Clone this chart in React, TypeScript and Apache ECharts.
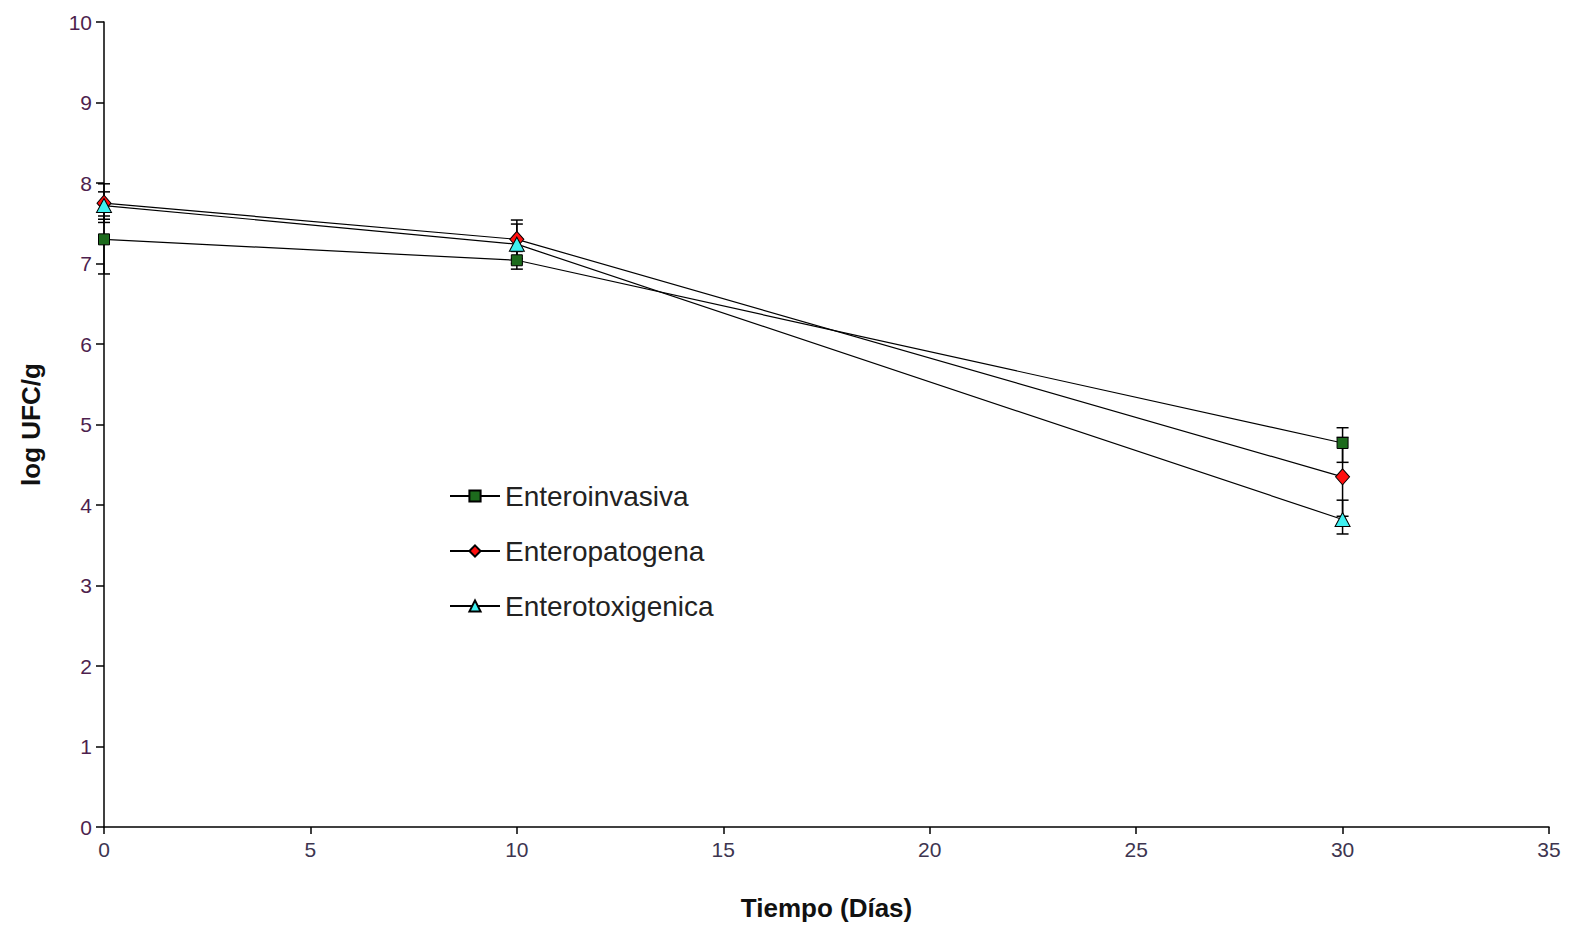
import React, { useEffect, useRef } from "react";
import * as echarts from "echarts";

const days = [0, 10, 30];
const xTicks = [0, 5, 10, 15, 20, 25, 30, 35];

const enteroinvasiva = [7.3, 7.04, 4.77];
const enteroinvasivaErrUp = [0.29, 0.11, 0.19];
const enteroinvasivaErrDown = [0.43, 0.11, 0.24];

const enteropatogena = [7.75, 7.3, 4.35];
const enteropatogenaErrUp = [0.24, 0.24, 0.49];
const enteropatogenaErrDown = [0.24, 0.24, 0.49];

const enterotoxigenica = [7.72, 7.24, 3.82];
const enterotoxigenicaErrUp = [0.17, 0.25, 0.24];
const enterotoxigenicaErrDown = [0.17, 0.24, 0.18];

const names = ["Enteroinvasiva", "Enteropatogena", "Enterotoxigenica"];

function errData(vals: number[], up: number[], down: number[]) {
  return days.map((d, i) => [d, vals[i] - down[i], vals[i] + up[i]]);
}

function errorSeries(vals: number[], up: number[], down: number[]) {
  return {
    type: "custom",
    silent: true,
    z: 1,
    data: errData(vals, up, down),
    renderItem: (params: any, api: any) => {
      const x = api.value(0);
      const lo = api.coord([x, api.value(1)]);
      const hi = api.coord([x, api.value(2)]);
      const hw = 6;
      const style = { stroke: "#000", lineWidth: 1.5 };
      return {
        type: "group",
        children: [
          { type: "line", shape: { x1: lo[0], y1: lo[1], x2: hi[0], y2: hi[1] }, style },
          { type: "line", shape: { x1: lo[0] - hw, y1: lo[1], x2: lo[0] + hw, y2: lo[1] }, style },
          { type: "line", shape: { x1: hi[0] - hw, y1: hi[1], x2: hi[0] + hw, y2: hi[1] }, style },
        ],
      };
    },
  };
}

function lineSeries(name: string, vals: number[], symbol: string, size: any, color: string) {
  return {
    name,
    type: "line",
    z: 3,
    data: days.map((d, i) => [d, vals[i]]),
    symbol,
    symbolSize: size,
    showAllSymbol: true,
    lineStyle: { color: "#000", width: 1.2 },
    itemStyle: { color, borderColor: "#000", borderWidth: 1 },
  };
}

export default function App() {
  const ref = useRef<HTMLDivElement>(null);
  useEffect(() => {
    if (!ref.current) return;
    const chart = echarts.init(ref.current, undefined, { renderer: "svg" });
    chart.setOption({
      animation: false,
      backgroundColor: "#fff",
      textStyle: { fontFamily: "Liberation Sans, Arial, sans-serif" },
      grid: { left: 104, right: 20, top: 22, bottom: 101, containLabel: false, outerBoundsMode: "none" },
      legend: {
        orient: "vertical",
        left: 444,
        top: 476,
        itemWidth: 50,
        itemHeight: 14,
        itemGap: 25,
        data: names,
        textStyle: { fontSize: 28, color: "#222", fontFamily: "Liberation Sans, Arial, sans-serif", lineHeight: 30 },
      },
      xAxis: {
        type: "value",
        min: 0,
        max: 35,
        interval: 5,
        name: "Tiempo (Días)",
        nameLocation: "middle",
        nameGap: 68,
        nameTextStyle: { fontSize: 26, fontWeight: "bold", color: "#111" },
        axisLine: { onZero: false, lineStyle: { color: "#000", width: 1.5 } },
        axisTick: { show: true, length: 7, lineStyle: { color: "#000", width: 1.5 } },
        axisLabel: {
          fontSize: 21,
          color: "#3d3550",
          margin: 12,
          formatter: (v: number) => (xTicks.includes(v) ? String(v) : ""),
        },
        splitLine: { show: false },
      },
      yAxis: {
        type: "value",
        min: 0,
        max: 10,
        interval: 1,
        name: "log UFC/g",
        nameLocation: "middle",
        nameGap: 60,
        nameRotate: 90,
        nameTextStyle: { fontSize: 26, fontWeight: "bold", color: "#111" },
        axisLine: { show: true, lineStyle: { color: "#000", width: 1.5 } },
        axisTick: { show: true, length: 8, lineStyle: { color: "#000", width: 1.5 } },
        axisLabel: { fontSize: 21, color: "#4e1f4e", margin: 12 },
        splitLine: { show: false },
      },
      series: [
        errorSeries(enteroinvasiva, enteroinvasivaErrUp, enteroinvasivaErrDown),
        errorSeries(enteropatogena, enteropatogenaErrUp, enteropatogenaErrDown),
        errorSeries(enterotoxigenica, enterotoxigenicaErrUp, enterotoxigenicaErrDown),
        lineSeries(names[0], enteroinvasiva, "rect", 11, "#1d6b1d"),
        lineSeries(names[1], enteropatogena, "diamond", [14, 16], "#ff1010"),
        lineSeries(names[2], enterotoxigenica, "triangle", [15, 14], "#3ff0f0"),
      ],
    });
    return () => chart.dispose();
  }, []);
  return (
    <div
      ref={ref}
      style={{ position: "fixed", left: 0, top: 0, width: 1569, height: 928 }}
    />
  );
}
